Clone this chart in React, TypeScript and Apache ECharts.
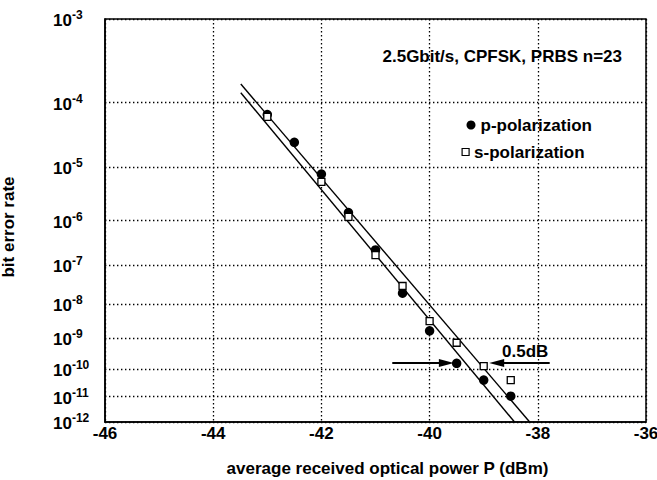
import React, { useEffect, useRef } from 'react';
import * as echarts from 'echarts';

const FONT = "'Liberation Sans', Arial, Helvetica, sans-serif";

// y axis: BER exponents (10^-n), drawn on a log(-log(BER)) scale
const berExponents = [3, 4, 5, 6, 7, 8, 9, 10, 11, 12];

// p-polarization measurements
const pPower = [-43, -42.5, -42, -41.5, -41, -40.5, -40, -39.5, -39, -38.5];
const pBer = [6.8e-5, 2.6e-5, 7.7e-6, 1.45e-6, 2.3e-7, 1.97e-8, 1.7e-9, 1.56e-10, 4.1e-11, 1.05e-11];

// s-polarization measurements
const sPower = [-43, -42, -41.5, -41, -40.5, -40, -39.5, -39, -38.5];
const sBer = [6.3e-5, 5.6e-6, 1.19e-6, 1.75e-7, 3.05e-8, 3.3e-9, 7.3e-10, 1.26e-10, 4.1e-11];

// fitted lines
const fitPPower = [-43.49, -38.43];
const fitPBer = [1.36e-4, 1e-12];
const fitSPower = [-43.49, -38.15];
const fitSBer = [1.77e-4, 1e-12];

// 0.5 dB arrows
const arrowBer = 1.6e-10;
const arrowLeftPower = [-40.69, -39.69];
const arrowRightPower = [-37.78, -38.76];

const T = (ber: number) => Math.log10(-Math.log10(ber));
const yTickVals = berExponents.map((n) => Math.log10(n));

const dotted = { color: '#000', width: 1.3, type: [1.4, 2.6] as any };
const txt = { color: '#000', fontSize: 17, fontWeight: 'bold' as const, fontFamily: FONT };

export default function App() {
  const ref = useRef<HTMLDivElement>(null);
  useEffect(() => {
    if (!ref.current) return;
    const chart = echarts.init(ref.current, undefined, { renderer: 'svg' });
    const arrowSym = 'path://M5,0L10,14L0,14Z';
    chart.setOption({
      animation: false,
      backgroundColor: '#fff',
      grid: {
        left: 105, right: 11, top: 19, bottom: 58,
        show: true, borderColor: '#000', borderWidth: 1.5,
        outerBoundsMode: 'none',
      },
      xAxis: {
        type: 'value', min: -46, max: -36, interval: 2,
        axisLine: { show: true, lineStyle: { color: '#000', width: 1.5 } },
        axisTick: { show: false },
        axisLabel: { ...txt, margin: 3, showMinLabel: true, showMaxLabel: true },
        splitLine: { show: true, lineStyle: dotted },
        name: 'average received optical power P (dBm)',
        nameLocation: 'middle', nameGap: 38,
        nameTextStyle: { ...txt, padding: [0, 0, 0, 24] },
      },
      yAxis: {
        type: 'value', inverse: true,
        min: yTickVals[0], max: yTickVals[yTickVals.length - 1],
        axisLine: { show: true, lineStyle: { color: '#000', width: 1.5 } },
        axisTick: { show: false, customValues: yTickVals },
        axisLabel: {
          customValues: yTickVals,
          align: 'left', margin: 52,
          showMinLabel: true, showMaxLabel: true,
          formatter: (v: number) => `{b|10}{s|-${Math.round(Math.pow(10, v))}}`,
          rich: {
            b: { ...txt, lineHeight: 20, verticalAlign: 'bottom' },
            s: { color: '#000', fontSize: 12, fontWeight: 'bold', fontFamily: FONT, lineHeight: 12, verticalAlign: 'top' },
          },
        },
        splitLine: { show: true, lineStyle: dotted },
        name: 'bit error rate',
        nameLocation: 'middle', nameGap: 88, nameRotate: 90,
        nameTextStyle: { ...txt, padding: [0, 13, 0, 0] },
      },
      legend: [
        {
          data: [{ name: 'p-polarization', icon: 'circle' }],
          orient: 'vertical', left: 461.5, top: 111.5,
          itemWidth: 9, itemHeight: 9, selectedMode: false,
          itemStyle: { color: '#000', borderWidth: 0, opacity: 1 },
          textStyle: { ...txt, lineHeight: 17 },
        },
        {
          data: [{ name: 's-polarization', icon: 'rect' }],
          orient: 'vertical', left: 456.5, top: 138.5,
          itemWidth: 7, itemHeight: 7, selectedMode: false,
          itemStyle: { color: '#fff', borderColor: '#000', borderWidth: 1.2, opacity: 1 },
          textStyle: { ...txt, lineHeight: 17 },
        },
      ],
      graphic: [
        {
          type: 'text', x: 622, y: 56, silent: true,
          style: { text: '2.5Gbit/s, CPFSK, PRBS n=23', fill: '#000', font: `bold 17px ${FONT}`, textAlign: 'right', textVerticalAlign: 'middle' },
        },
        {
          type: 'text', x: 502, y: 351, silent: true,
          style: { text: '0.5dB', fill: '#000', font: `bold 17px ${FONT}`, textAlign: 'left', textVerticalAlign: 'middle' },
        },
      ],
      series: [
        {
          name: 'fit p', type: 'line', silent: true, symbol: 'none',
          data: fitPPower.map((x, i) => [x, T(fitPBer[i])]),
          lineStyle: { color: '#000', width: 1.4 },
        },
        {
          name: 'fit s', type: 'line', silent: true, symbol: 'none',
          data: fitSPower.map((x, i) => [x, T(fitSBer[i])]),
          lineStyle: { color: '#000', width: 1.4 },
        },
        {
          name: 'p-polarization', type: 'scatter', symbol: 'circle', symbolSize: 9.5,
          data: pPower.map((x, i) => [x, T(pBer[i])]),
          itemStyle: { color: '#000', opacity: 1 },
        },
        {
          name: 's-polarization', type: 'scatter', symbol: 'rect', symbolSize: 7,
          data: sPower.map((x, i) => [x, T(sBer[i])]),
          itemStyle: { color: '#fff', borderColor: '#000', borderWidth: 1.3, opacity: 1 },
          z: 3,
        },
        {
          name: 'arrows', type: 'line', data: [], silent: true,
          markLine: {
            silent: true, animation: false,
            symbol: ['none', arrowSym],
            symbolSize: 12,
            label: { show: false },
            lineStyle: { color: '#000', width: 1.8, type: 'solid' },
            data: [
              [
                { coord: [arrowLeftPower[0], T(arrowBer)], symbol: 'none' },
                { coord: [arrowLeftPower[1], T(arrowBer)], symbol: arrowSym, symbolSize: [8, 15] },
              ],
              [
                { coord: [arrowRightPower[0], T(arrowBer)], symbol: 'none' },
                { coord: [arrowRightPower[1], T(arrowBer)], symbol: arrowSym, symbolSize: [8, 15] },
              ],
            ],
          },
        },
      ],
    });
    return () => chart.dispose();
  }, []);
  return <div ref={ref} style={{ position: 'absolute', left: 0, top: 0, width: 657, height: 480 }} />;
}
